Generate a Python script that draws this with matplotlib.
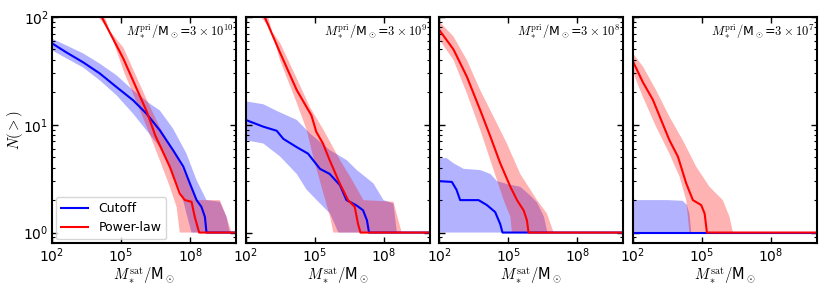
import numpy as np
import matplotlib.pyplot as plt
from matplotlib.ticker import NullLocator

plt.rcParams['mathtext.fontset'] = 'cm'

# log10(M*sat / Msun) positions and N(>) values
# panel 1: M*pri = 3e10
cut1_x = [2.0, 2.62, 3.35, 4.07, 4.80, 5.52, 6.10, 6.68, 7.26, 7.70, 7.99, 8.28, 8.49, 8.64, 8.71, 10.0]
cut1_n = [57, 47, 38, 30, 22.4, 16.9, 12.7, 8.9, 5.8, 4.1, 2.85, 2.0, 1.73, 1.4, 1, 1]
cut1_hi_x = [2.0, 3.35, 4.07, 4.80, 5.52, 6.25, 6.68, 7.26, 7.84, 8.28, 8.71, 9.29, 9.58, 9.72]
cut1_hi = [63, 46, 37, 28.8, 20.9, 15.7, 13.6, 9.2, 5.4, 3.06, 2.0, 1.93, 1.4, 1]
cut1_lo_x = [2.0, 3.35, 4.07, 4.80, 5.52, 6.10, 6.68, 7.26, 7.62, 7.84, 8.06]
cut1_lo = [49, 34, 25.9, 18.8, 12.7, 8.9, 6.2, 3.5, 2.3, 1.5, 1]

pow1_x = [4.16, 5.10, 6.12, 6.48, 7.12, 7.55, 7.77, 8.06, 8.20, 8.39, 10.0]
pow1_n = [100, 41, 13.2, 8.0, 4.06, 2.3, 2.0, 1.93, 1.4, 1, 1]
pow1_hi_x = [4.01, 5.10, 6.12, 6.68, 7.26, 7.84, 8.28, 9.29, 9.58, 9.80]
pow1_hi = [100, 52, 17, 9.5, 5.8, 3.3, 2.0, 2.0, 1.4, 1]
pow1_lo_x = [4.30, 5.10, 6.12, 6.68, 7.12, 7.41, 7.55]
pow1_lo = [100, 32, 9.5, 4.7, 2.65, 1.73, 1]

# panel 2: M*pri = 3e9
cut2_x = [2.0, 2.77, 3.35, 3.64, 4.22, 4.71, 5.23, 5.65, 6.10, 6.38, 6.81, 7.10, 7.27, 7.36, 10.0]
cut2_n = [11.1, 9.6, 8.8, 7.4, 6.2, 5.4, 3.9, 3.5, 2.75, 2.0, 1.79, 1.61, 1.3, 1, 1]
cut2_hi_x = [2.0, 2.77, 3.40, 4.22, 4.80, 5.67, 6.39, 6.83, 7.55, 7.99, 8.42, 8.57]
cut2_hi = [16.5, 15.5, 13.3, 11.1, 8.3, 5.8, 4.7, 3.8, 2.86, 2.0, 1.86, 1]
cut2_lo_x = [2.0, 2.77, 3.49, 4.22, 4.65, 5.09, 5.67, 6.03]
cut2_lo = [7.2, 6.7, 5.1, 3.5, 2.5, 2.0, 1.5, 1]

pow2_x = [2.83, 3.49, 4.22, 4.86, 5.07, 5.36, 5.65, 6.09, 6.45, 6.74, 6.88, 6.99, 10.0]
pow2_n = [100, 47, 21, 12.2, 8.6, 6.7, 4.7, 2.85, 2.0, 1.73, 1.21, 1, 1]
pow2_hi_x = [2.68, 3.49, 4.22, 4.80, 5.38, 6.10, 6.54, 7.12, 8.42, 8.78]
pow2_hi = [100, 58, 27, 14.5, 9.0, 4.7, 3.3, 2.0, 1.93, 1]
pow2_lo_x = [2.98, 3.49, 4.22, 4.65, 4.94, 5.38, 5.67, 5.81]
pow2_lo = [100, 40, 16, 9.0, 5.0, 2.3, 1.4, 1]

# panel 3: M*pri = 3e8
cut3_x = [2.0, 2.55, 2.75, 2.91, 3.71, 4.07, 4.43, 4.65, 4.75, 10.0]
cut3_n = [3.0, 2.95, 2.5, 2.0, 2.0, 1.8, 1.55, 1.2, 1.0, 1.0]
cut3_hi_x = [2.0, 2.33, 2.62, 3.06, 3.78, 4.22, 4.51, 5.0, 5.52, 5.96, 6.25, 6.55, 6.70]
cut3_hi = [4.9, 4.9, 4.4, 3.9, 3.8, 3.5, 3.0, 2.8, 2.66, 2.2, 1.9, 1.4, 1.0]
cut3_lo_x = [2.0, 6.70]
cut3_lo = [1.0, 1.0]

pow3_x = [2.0, 2.62, 3.20, 3.78, 4.22, 4.65, 5.09, 5.38, 5.67, 5.81, 5.88, 10.0]
pow3_n = [76, 50, 28, 13.7, 7.8, 4.4, 2.66, 2.0, 1.6, 1.3, 1.0, 1.0]
pow3_hi_x = [2.0, 2.62, 3.20, 3.78, 4.36, 4.94, 5.52, 6.25, 6.68, 6.97]
pow3_hi = [91, 66, 40, 21, 11.9, 6.7, 3.5, 2.0, 1.5, 1.0]
pow3_lo_x = [2.0, 2.62, 3.20, 3.78, 4.22, 4.51, 4.80, 5.09, 5.16]
pow3_lo = [62, 40, 19.6, 9.0, 4.7, 3.07, 2.0, 1.4, 1.0]

# panel 4: M*pri = 3e7
cut4_x = [2.0, 10.0]
cut4_n = [1.0, 1.0]
cut4_hi_x = [2.0, 3.5, 4.17, 4.35, 4.46, 4.54]
cut4_hi = [2.0, 2.0, 1.97, 1.8, 1.5, 1.0]
cut4_lo_x = [2.0, 4.54]
cut4_lo = [1.0, 1.0]

pow4_x = [2.0, 2.43, 2.87, 3.59, 3.96, 4.32, 4.61, 4.97, 5.12, 5.22, 10.0]
pow4_n = [39, 25, 17.1, 7.2, 5.06, 2.86, 2.0, 1.8, 1.5, 1.0, 1.0]
pow4_hi_x = [2.0, 2.43, 3.01, 3.59, 4.17, 4.75, 5.33, 5.91, 6.20, 6.35]
pow4_hi = [46, 35, 21, 11.9, 7.2, 4.1, 2.66, 2.0, 1.4, 1.0]
pow4_lo_x = [2.0, 2.43, 3.01, 3.59, 4.03, 4.32, 4.46]
pow4_lo = [31, 18.3, 9.6, 5.4, 3.3, 2.0, 1.0]

labels = [r'$M_*^{\rm pri}/$M$_\odot$=$3\times10^{10}$',
          r'$M_*^{\rm pri}/$M$_\odot$=$3\times10^{9}$',
          r'$M_*^{\rm pri}/$M$_\odot$=$3\times10^{8}$',
          r'$M_*^{\rm pri}/$M$_\odot$=$3\times10^{7}$']

cutoff = [(cut1_x, cut1_n, cut1_hi_x, cut1_hi, cut1_lo_x, cut1_lo),
          (cut2_x, cut2_n, cut2_hi_x, cut2_hi, cut2_lo_x, cut2_lo),
          (cut3_x, cut3_n, cut3_hi_x, cut3_hi, cut3_lo_x, cut3_lo),
          (cut4_x, cut4_n, cut4_hi_x, cut4_hi, cut4_lo_x, cut4_lo)]
powlaw = [(pow1_x, pow1_n, pow1_hi_x, pow1_hi, pow1_lo_x, pow1_lo),
          (pow2_x, pow2_n, pow2_hi_x, pow2_hi, pow2_lo_x, pow2_lo),
          (pow3_x, pow3_n, pow3_hi_x, pow3_hi, pow3_lo_x, pow3_lo),
          (pow4_x, pow4_n, pow4_hi_x, pow4_hi, pow4_lo_x, pow4_lo)]


def band(ax, hi_x, hi, lo_x, lo, color):
    xs = 10 ** np.concatenate([hi_x, lo_x[::-1]])
    ys = np.concatenate([hi, lo[::-1]])
    ax.fill(xs, ys, color=color, alpha=0.3, lw=0)


fig, axes = plt.subplots(1, 4, figsize=(8.3, 2.91), dpi=100, sharey=True)
fig.subplots_adjust(left=52/830, right=817/830, bottom=1-243/291, top=1-17/291, wspace=0.051)

for i, ax in enumerate(axes):
    cx, cn, chx, ch, clx, cl = cutoff[i]
    px, pn, phx, ph, plx, pl = powlaw[i]
    band(ax, chx, ch, clx, cl, 'blue')
    band(ax, phx, ph, plx, pl, 'red')
    ax.plot(10 ** np.array(cx), cn, color='blue', lw=1.5, label='Cutoff')
    ax.plot(10 ** np.array(px), pn, color='red', lw=1.5, label='Power-law')

    ax.set_xscale('log')
    ax.set_yscale('log')
    ax.set_xlim(1e2, 1e10)
    ax.set_ylim(0.8, 100)
    ax.set_xticks([1e2, 1e5, 1e8])
    ax.xaxis.set_minor_locator(NullLocator())
    ax.tick_params(which='both', direction='in', top=True, right=True, labelsize=10, pad=2.5)
    ax.tick_params(which='major', length=4.5, width=1)
    ax.tick_params(which='minor', length=2.5, width=0.8)
    for sp in ax.spines.values():
        sp.set_linewidth(1.5)
    ax.set_xlabel(r'$M_*^{\rm sat}/$M$_\odot$', fontsize=10.5, labelpad=0)
    ax.text(0.985, 0.975, labels[i], transform=ax.transAxes, ha='right', va='top', fontsize=9)

axes[0].set_ylabel(r'$N(>)$', fontsize=10.5)
axes[0].yaxis.set_label_coords(-0.145, 0.5)
axes[0].legend(loc='lower left', fontsize=9, handlelength=2.2, borderaxespad=0.3)

plt.savefig('out.png', dpi=100)
